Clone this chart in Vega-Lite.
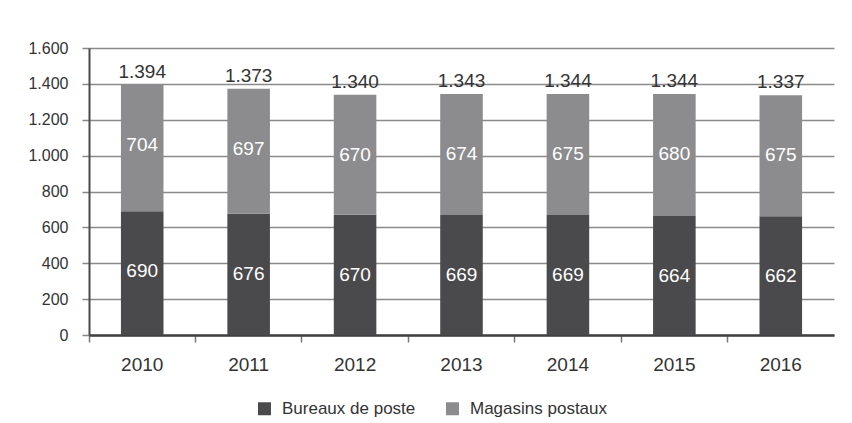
{
  "$schema": "https://vega.github.io/schema/vega-lite/v6.json",
  "width": 745,
  "height": 287,
  "autosize": {"type": "none"},
  "padding": {"left": 89, "top": 48, "right": 18, "bottom": 88},
  "background": "white",
  "config": {
    "locale": {"number": {"decimal": ",", "thousands": ".", "grouping": [3], "currency": ["", " €"]}},
    "view": {"stroke": null},
    "font": "Liberation Sans",
    "axisY": {
      "title": null,
      "values": [0, 200, 400, 600, 800, 1000, 1200, 1400, 1600],
      "format": ",d",
      "labelFontSize": 16,
      "labelColor": "#333333",
      "tickColor": "#888888",
      "tickSize": 7,
      "tickWidth": 1.5,
      "grid": true,
      "gridColor": "#8a8a8a",
      "gridWidth": 1.5,
      "labelPadding": 14
    }
  },
  "data": {
    "values": [
      {"year": "2010", "series": "Bureaux de poste", "value": 690},
      {"year": "2010", "series": "Magasins postaux", "value": 704},
      {"year": "2011", "series": "Bureaux de poste", "value": 676},
      {"year": "2011", "series": "Magasins postaux", "value": 697},
      {"year": "2012", "series": "Bureaux de poste", "value": 670},
      {"year": "2012", "series": "Magasins postaux", "value": 670},
      {"year": "2013", "series": "Bureaux de poste", "value": 669},
      {"year": "2013", "series": "Magasins postaux", "value": 674},
      {"year": "2014", "series": "Bureaux de poste", "value": 669},
      {"year": "2014", "series": "Magasins postaux", "value": 675},
      {"year": "2015", "series": "Bureaux de poste", "value": 664},
      {"year": "2015", "series": "Magasins postaux", "value": 680},
      {"year": "2016", "series": "Bureaux de poste", "value": 662},
      {"year": "2016", "series": "Magasins postaux", "value": 675}
    ]
  },
  "encoding": {
    "x": {
      "field": "year",
      "type": "ordinal",
      "scale": {"paddingInner": 0, "paddingOuter": 0},
      "axis": {
        "title": null,
        "labelAngle": 0,
        "labelFontSize": 19,
        "labelColor": "#333333",
        "domainColor": "#404040",
        "domainWidth": 2.5,
        "tickColor": "#777777",
        "tickSize": 7,
        "tickWidth": 1.5,
        "bandPosition": 0,
        "labelPadding": 13,
        "grid": false
      }
    }
  },
  "layer": [
    {
      "mark": {"type": "bar", "width": {"band": 0.4}},
      "encoding": {
        "y": {
          "field": "value",
          "type": "quantitative",
          "stack": "zero",
          "scale": {"domain": [0, 1600], "nice": false},
          "axis": {"title": null, "domain": true, "domainColor": "#4a4a4a", "domainWidth": 2}
        },
        "order": {"field": "series", "sort": "ascending"},
        "color": {
          "field": "series",
          "type": "nominal",
          "scale": {"domain": ["Bureaux de poste", "Magasins postaux"], "range": ["#4a4a4c", "#8c8c8f"]},
          "legend": {
            "title": null,
            "orient": "none",
            "legendX": 167,
            "legendY": 352,
            "direction": "horizontal",
            "symbolType": "square",
            "symbolSize": 169,
            "symbolStrokeWidth": 0,
            "labelFontSize": 17,
            "labelColor": "#333333",
            "labelOffset": 9,
            "columnPadding": 28,
            "padding": 0
          }
        }
      }
    },
    {
      "transform": [
        {"stack": "value", "groupby": ["year"], "sort": [{"field": "series", "order": "ascending"}], "as": ["v0", "v1"]}
      ],
      "mark": {"type": "text", "color": "white", "fontSize": 19, "baseline": "middle", "dy": 60},
      "encoding": {
        "y": {
          "field": "v1",
          "type": "quantitative",
          "scale": {"domain": [0, 1600], "nice": false},
          "axis": {"title": null}
        },
        "text": {"field": "value", "type": "quantitative", "format": "d"}
      }
    },
    {
      "mark": {"type": "text", "color": "#333333", "fontSize": 19, "baseline": "bottom", "dy": -3},
      "encoding": {
        "y": {
          "aggregate": "sum",
          "field": "value",
          "type": "quantitative",
          "scale": {"domain": [0, 1600], "nice": false},
          "axis": {"title": null}
        },
        "text": {"aggregate": "sum", "field": "value", "type": "quantitative", "format": ",d"}
      }
    }
  ]
}
